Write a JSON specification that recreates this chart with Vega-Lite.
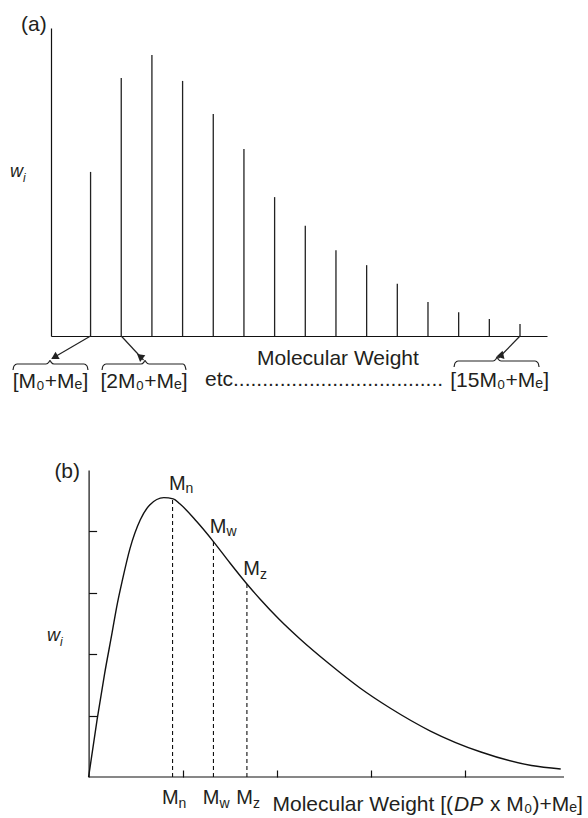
{
  "$schema": "https://vega.github.io/schema/vega-lite/v6.json",
  "autosize": {"type": "none"},
  "padding": {"left": 51, "top": 28, "right": 537, "bottom": 790},
  "spacing": 134,
  "bounds": "flush",
  "config": {
    "view": {"stroke": null},
    "font": "Liberation Sans",
    "text": {"font": "Liberation Sans", "fontSize": 21, "baseline": "alphabetic", "color": "#231f20"},
    "axis": {"grid": false, "labels": false, "domainColor": "#111111", "tickColor": "#111111", "domainWidth": 1.2, "tickWidth": 1.2}
  },
  "datasets": {
    "sticks": [
      {"n": 1, "w": 58.6}, {"n": 2, "w": 92.1}, {"n": 3, "w": 100.4}, {"n": 4, "w": 91.1},
      {"n": 5, "w": 79.3}, {"n": 6, "w": 66.8}, {"n": 7, "w": 49.6}, {"n": 8, "w": 39.4},
      {"n": 9, "w": 30.6}, {"n": 10, "w": 25.3}, {"n": 11, "w": 18.7}, {"n": 12, "w": 12.1},
      {"n": 13, "w": 8.5}, {"n": 14, "w": 6.1}, {"n": 15, "w": 4.3}
    ],
    "arrows": [
      {"lab": "a1", "x0": 1, "y0": 0, "tx": -0.257, "ty": -8.04, "hx": -0.143, "hy": -7.32},
      {"lab": "a2", "x0": 2, "y0": 0, "tx": 2.726, "ty": -8.57, "hx": 2.638, "hy": -7.54},
      {"lab": "a3", "x0": 15, "y0": 0, "tx": 14.294, "ty": -7.96, "hx": 14.386, "hy": -6.93}
    ],
    "braces": [
      {"b": 1, "i": 1, "x": -1.529, "y": -12.14}, {"b": 1, "i": 2, "x": -1.496, "y": -10.71},
      {"b": 1, "i": 3, "x": -1.399, "y": -10.0}, {"b": 1, "i": 4, "x": -0.453, "y": -10.0},
      {"b": 1, "i": 5, "x": -0.355, "y": -9.29}, {"b": 1, "i": 6, "x": -0.323, "y": -8.75},
      {"b": 1, "i": 7, "x": -0.29, "y": -9.29}, {"b": 1, "i": 8, "x": -0.192, "y": -10.0},
      {"b": 1, "i": 9, "x": 0.786, "y": -10.0}, {"b": 1, "i": 10, "x": 0.884, "y": -10.71},
      {"b": 1, "i": 11, "x": 0.916, "y": -12.14},
      {"b": 2, "i": 1, "x": 1.373, "y": -12.14}, {"b": 2, "i": 2, "x": 1.405, "y": -10.71},
      {"b": 2, "i": 3, "x": 1.503, "y": -10.0}, {"b": 2, "i": 4, "x": 2.644, "y": -10.0},
      {"b": 2, "i": 5, "x": 2.742, "y": -9.29}, {"b": 2, "i": 6, "x": 2.775, "y": -8.75},
      {"b": 2, "i": 7, "x": 2.807, "y": -9.29}, {"b": 2, "i": 8, "x": 2.905, "y": -10.0},
      {"b": 2, "i": 9, "x": 4.014, "y": -10.0}, {"b": 2, "i": 10, "x": 4.079, "y": -10.71},
      {"b": 2, "i": 11, "x": 4.112, "y": -12.14},
      {"b": 3, "i": 1, "x": 12.85, "y": -11.07}, {"b": 3, "i": 2, "x": 12.883, "y": -9.64},
      {"b": 3, "i": 3, "x": 12.98, "y": -8.93}, {"b": 3, "i": 4, "x": 14.121, "y": -8.93},
      {"b": 3, "i": 5, "x": 14.219, "y": -8.21}, {"b": 3, "i": 6, "x": 14.252, "y": -7.5},
      {"b": 3, "i": 7, "x": 14.284, "y": -8.21}, {"b": 3, "i": 8, "x": 14.382, "y": -8.93},
      {"b": 3, "i": 9, "x": 15.491, "y": -8.93}, {"b": 3, "i": 10, "x": 15.589, "y": -9.64},
      {"b": 3, "i": 11, "x": 15.621, "y": -11.07}
    ],
    "mlabels": [
      {"t": "[M₀+Mₑ]", "x": -0.306, "y": -18.68},
      {"t": "[2M₀+Mₑ]", "x": 2.742, "y": -18.68},
      {"t": "[15M₀+Mₑ]", "x": 14.334, "y": -18.2}
    ],
    "curve": [
      {"mw": 0, "w": 0}, {"mw": 0.09, "w": 0.93}, {"mw": 0.17, "w": 1.68}, {"mw": 0.25, "w": 2.35},
      {"mw": 0.3, "w": 2.78}, {"mw": 0.36, "w": 3.21}, {"mw": 0.44, "w": 3.72}, {"mw": 0.55, "w": 4.19},
      {"mw": 0.65, "w": 4.43}, {"mw": 0.8, "w": 4.55}, {"mw": 0.9, "w": 4.53}, {"mw": 0.97, "w": 4.45},
      {"mw": 1.15, "w": 4.16}, {"mw": 1.33, "w": 3.83}, {"mw": 1.504, "w": 3.485}, {"mw": 1.684, "w": 3.143},
      {"mw": 1.823, "w": 2.899}, {"mw": 2.024, "w": 2.573}, {"mw": 2.249, "w": 2.248}, {"mw": 2.562, "w": 1.84},
      {"mw": 2.887, "w": 1.45}, {"mw": 3.206, "w": 1.124}, {"mw": 3.636, "w": 0.749}, {"mw": 4.173, "w": 0.407},
      {"mw": 4.711, "w": 0.187}, {"mw": 5.022, "w": 0.13}
    ],
    "moments": [
      {"m": "n", "x": 0.893, "y0": 0, "y": 4.53},
      {"m": "w", "x": 1.328, "y0": 0, "y": 3.83},
      {"m": "z", "x": 1.684, "y0": 0, "y": 3.14}
    ],
    "axisb": [
      {"x0": 0, "x1": 5.057, "y": 0}
    ],
    "notes_a": [
      {"t": "etc....................................", "x": 4.731, "y": -17.9, "pos": "etc"},
      {"t": "Molecular Weight", "x": 6.427, "y": -10.36, "pos": "title"},
      {"t": "(a)", "x": -0.43, "y": 108.9, "pos": "panel"},
      {"t": "w", "x": -1.203, "y": 56.9, "pos": "w"},
      {"t": "i", "x": -1.203, "y": 56.9, "pos": "i"}
    ],
    "notes_b": [
      {"t": "Molecular Weight [(", "x": 3.887, "y": 0, "pos": "t1"},
      {"t": "DP", "x": 3.887, "y": 0, "pos": "t2"},
      {"t": "x M₀)+Mₑ]", "x": 3.887, "y": 0, "pos": "t3"},
      {"t": "(b)", "x": -0.091, "y": 4.87, "pos": "panel"},
      {"t": "w", "x": -0.304, "y": 2.215, "pos": "w"},
      {"t": "i", "x": -0.304, "y": 2.215, "pos": "i"}
    ]
  },
  "vconcat": [
    {
      "width": 496,
      "height": 308,
      "layer": [
        {
          "data": {"name": "sticks"},
          "mark": {"type": "rule", "color": "#222222", "strokeWidth": 1.3},
          "encoding": {
            "x": {"field": "n", "type": "quantitative", "scale": {"domain": [-0.29, 15.88], "nice": false, "zero": false}, "axis": {"ticks": false, "title": null}},
            "y": {"field": "w", "type": "quantitative", "scale": {"domain": [0, 110], "nice": false, "zero": false}, "axis": {"ticks": false, "title": null}},
            "y2": {"datum": 0}
          }
        },
        {
          "data": {"name": "arrows"},
          "mark": {"type": "rule", "color": "#222222", "strokeWidth": 1.2},
          "encoding": {
            "x": {"field": "x0", "type": "quantitative"},
            "y": {"field": "y0", "type": "quantitative"},
            "x2": {"field": "tx"},
            "y2": {"field": "ty"}
          }
        },
        {
          "data": {"name": "arrows"},
          "mark": {"type": "point", "shape": "triangle", "filled": true, "color": "#222222", "size": 70, "opacity": 1},
          "encoding": {
            "x": {"field": "hx", "type": "quantitative"},
            "y": {"field": "hy", "type": "quantitative"},
            "angle": {"field": "lab", "type": "nominal", "scale": {"domain": ["a1", "a2", "a3"], "range": [240, 137, 224]}, "legend": null}
          }
        },
        {
          "data": {"name": "braces"},
          "mark": {"type": "line", "color": "#222222", "strokeWidth": 1.2, "interpolate": "monotone"},
          "encoding": {
            "x": {"field": "x", "type": "quantitative"},
            "y": {"field": "y", "type": "quantitative"},
            "detail": {"field": "b", "type": "nominal"},
            "order": {"field": "i", "type": "quantitative"}
          }
        },
        {
          "data": {"name": "mlabels"},
          "mark": {"type": "text", "align": "center"},
          "encoding": {
            "x": {"field": "x", "type": "quantitative"},
            "y": {"field": "y", "type": "quantitative"},
            "text": {"field": "t", "type": "nominal"}
          }
        },
        {
          "data": {"name": "notes_a"},
          "transform": [{"filter": "datum.pos === 'etc' || datum.pos === 'title'"}],
          "mark": {"type": "text", "align": "left"},
          "encoding": {
            "x": {"field": "x", "type": "quantitative"},
            "y": {"field": "y", "type": "quantitative"},
            "text": {"field": "t", "type": "nominal"}
          }
        },
        {
          "data": {"name": "notes_a"},
          "transform": [{"filter": "datum.pos === 'panel'"}],
          "mark": {"type": "text", "align": "right"},
          "encoding": {
            "x": {"field": "x", "type": "quantitative"},
            "y": {"field": "y", "type": "quantitative"},
            "text": {"field": "t", "type": "nominal"}
          }
        },
        {
          "data": {"name": "notes_a"},
          "transform": [{"filter": "datum.pos === 'w'"}],
          "mark": {"type": "text", "align": "right", "fontSize": 18, "fontStyle": "italic"},
          "encoding": {
            "x": {"field": "x", "type": "quantitative"},
            "y": {"field": "y", "type": "quantitative"},
            "text": {"field": "t", "type": "nominal"}
          }
        },
        {
          "data": {"name": "notes_a"},
          "transform": [{"filter": "datum.pos === 'i'"}],
          "mark": {"type": "text", "align": "left", "fontSize": 12, "fontStyle": "italic", "dy": 5},
          "encoding": {
            "x": {"field": "x", "type": "quantitative"},
            "y": {"field": "y", "type": "quantitative"},
            "text": {"field": "t", "type": "nominal"}
          }
        }
      ]
    },
    {
      "width": 513,
      "height": 307,
      "layer": [
        {
          "data": {"name": "curve"},
          "mark": {"type": "line", "color": "#111111", "strokeWidth": 1.4, "interpolate": "monotone"},
          "encoding": {
            "x": {"field": "mw", "type": "quantitative", "scale": {"domain": [-0.4, 5.057], "nice": false, "zero": false}, "axis": {"domain": false, "values": [1, 2, 3, 4], "tickSize": -7, "title": null}},
            "y": {"field": "w", "type": "quantitative", "scale": {"domain": [0, 5], "nice": false, "zero": false}, "axis": {"offset": -37.6, "values": [1, 2, 3, 4], "tickSize": -8, "title": null}}
          }
        },
        {
          "data": {"name": "axisb"},
          "mark": {"type": "rule", "color": "#111111", "strokeWidth": 1.2},
          "encoding": {
            "x": {"field": "x0", "type": "quantitative"},
            "x2": {"field": "x1"},
            "y": {"field": "y", "type": "quantitative"}
          }
        },
        {
          "data": {"name": "moments"},
          "mark": {"type": "rule", "color": "#111111", "strokeWidth": 1.1, "strokeDash": [4, 3]},
          "encoding": {
            "x": {"field": "x", "type": "quantitative"},
            "y": {"field": "y0", "type": "quantitative"},
            "y2": {"field": "y"}
          }
        },
        {
          "data": {"name": "moments"},
          "mark": {"type": "text", "text": "M", "align": "right", "dx": 13, "dy": -9, "fontSize": 20},
          "encoding": {"x": {"field": "x", "type": "quantitative"}, "y": {"field": "y", "type": "quantitative"}}
        },
        {
          "data": {"name": "moments"},
          "mark": {"type": "text", "align": "left", "dx": 13, "dy": -5.5, "fontSize": 14},
          "encoding": {"x": {"field": "x", "type": "quantitative"}, "y": {"field": "y", "type": "quantitative"}, "text": {"field": "m", "type": "nominal"}}
        },
        {
          "data": {"name": "moments"},
          "mark": {"type": "text", "text": "M", "align": "right", "dx": 6, "dy": 27, "fontSize": 20},
          "encoding": {"x": {"field": "x", "type": "quantitative"}, "y": {"field": "y0", "type": "quantitative"}}
        },
        {
          "data": {"name": "moments"},
          "mark": {"type": "text", "align": "left", "dx": 6, "dy": 30.5, "fontSize": 14},
          "encoding": {"x": {"field": "x", "type": "quantitative"}, "y": {"field": "y0", "type": "quantitative"}, "text": {"field": "m", "type": "nominal"}}
        },
        {
          "data": {"name": "notes_b"},
          "transform": [{"filter": "datum.pos === 't1'"}],
          "mark": {"type": "text", "align": "right", "dx": -1, "dy": 34},
          "encoding": {"x": {"field": "x", "type": "quantitative"}, "y": {"field": "y", "type": "quantitative"}, "text": {"field": "t", "type": "nominal"}}
        },
        {
          "data": {"name": "notes_b"},
          "transform": [{"filter": "datum.pos === 't2'"}],
          "mark": {"type": "text", "align": "left", "dy": 34, "fontStyle": "italic"},
          "encoding": {"x": {"field": "x", "type": "quantitative"}, "y": {"field": "y", "type": "quantitative"}, "text": {"field": "t", "type": "nominal"}}
        },
        {
          "data": {"name": "notes_b"},
          "transform": [{"filter": "datum.pos === 't3'"}],
          "mark": {"type": "text", "align": "left", "dx": 36, "dy": 34},
          "encoding": {"x": {"field": "x", "type": "quantitative"}, "y": {"field": "y", "type": "quantitative"}, "text": {"field": "t", "type": "nominal"}}
        },
        {
          "data": {"name": "notes_b"},
          "transform": [{"filter": "datum.pos === 'panel'"}],
          "mark": {"type": "text", "align": "right"},
          "encoding": {"x": {"field": "x", "type": "quantitative"}, "y": {"field": "y", "type": "quantitative"}, "text": {"field": "t", "type": "nominal"}}
        },
        {
          "data": {"name": "notes_b"},
          "transform": [{"filter": "datum.pos === 'w'"}],
          "mark": {"type": "text", "align": "right", "fontSize": 18, "fontStyle": "italic"},
          "encoding": {"x": {"field": "x", "type": "quantitative"}, "y": {"field": "y", "type": "quantitative"}, "text": {"field": "t", "type": "nominal"}}
        },
        {
          "data": {"name": "notes_b"},
          "transform": [{"filter": "datum.pos === 'i'"}],
          "mark": {"type": "text", "align": "left", "fontSize": 12, "fontStyle": "italic", "dy": 5},
          "encoding": {"x": {"field": "x", "type": "quantitative"}, "y": {"field": "y", "type": "quantitative"}, "text": {"field": "t", "type": "nominal"}}
        }
      ]
    }
  ]
}
